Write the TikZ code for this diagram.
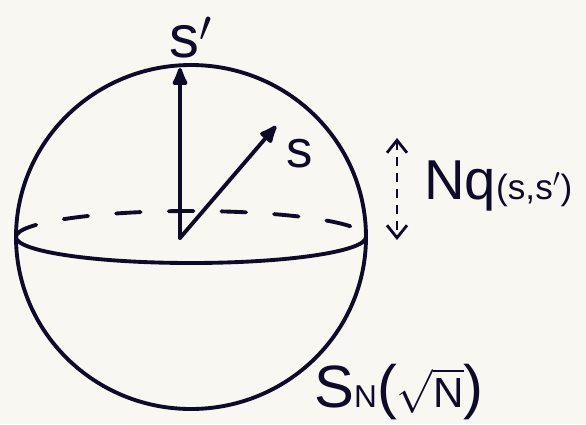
\documentclass[tikz,border=0pt]{standalone}
\usepackage{fontspec}
\setmainfont{Liberation Sans}
\usetikzlibrary{arrows.meta}
\definecolor{inkNavy}{HTML}{0E0B2A}
\definecolor{paperCream}{HTML}{F9F7F2}

\begin{document}
\begin{tikzpicture}[
  x=0.02cm, y=-0.02cm,
  ink/.style={draw=inkNavy, line width=2.2pt, line cap=round},
  vec/.style={ink, -{Latex[length=4.5mm,width=3.6mm,round]}},
  lbl/.style={text=inkNavy, inner sep=0pt}
]
  % paper and frame
  \fill[paperCream] (0,0) rectangle (586,424);
  \useasboundingbox (0,0) rectangle (586,424);

  % sphere and equator
  \coordinate (o) at (180,238);
  \coordinate (sc) at (191,237);
  \draw[ink] (sc) circle [x radius=175, y radius=172];
  \draw[ink] ([xshift=-175*0.02cm]sc) arc [start angle=180, end angle=360, x radius=175, y radius=-26];
  \draw[ink, dash pattern=on 14pt off 16pt] ([xshift=-175*0.02cm]sc) arc [start angle=180, end angle=0, x radius=175, y radius=-26];

  % vectors
  \coordinate (sptip) at (180,68);
  \coordinate (stip) at (276,126);
  \draw[vec] (o) -- (sptip);
  \draw[vec] (o) -- (stip);

  % labels
  \node[lbl, font=\fontsize{34}{34}\selectfont] (sp) at (191,38) {s$'$};
  \node[lbl, font=\fontsize{30}{30}\selectfont] (s) at (300,154) {s};
  \coordinate (qtop) at (397,138);
  \coordinate (qbot) at (397,240);
  \draw[draw=inkNavy, line width=1.6pt, dash pattern=on 5pt off 4pt,
        {Straight Barb[length=2.5mm,width=4mm]}-{Straight Barb[length=2.5mm,width=4mm]}] (qtop) -- (qbot);
  \node[lbl, anchor=west, font=\fontsize{32}{32}\selectfont] (nq) at (424,186)
    {Nq{\fontsize{20}{20}\selectfont(s,s$'$)}};
  \node[lbl, anchor=west, font=\fontsize{34}{34}\selectfont] (sn) at (314,392)
    {S{\fontsize{18}{18}\selectfont N}($\sqrt{\hbox{\fontsize{24}{24}\selectfont N}}$)};
\end{tikzpicture}
\end{document}
